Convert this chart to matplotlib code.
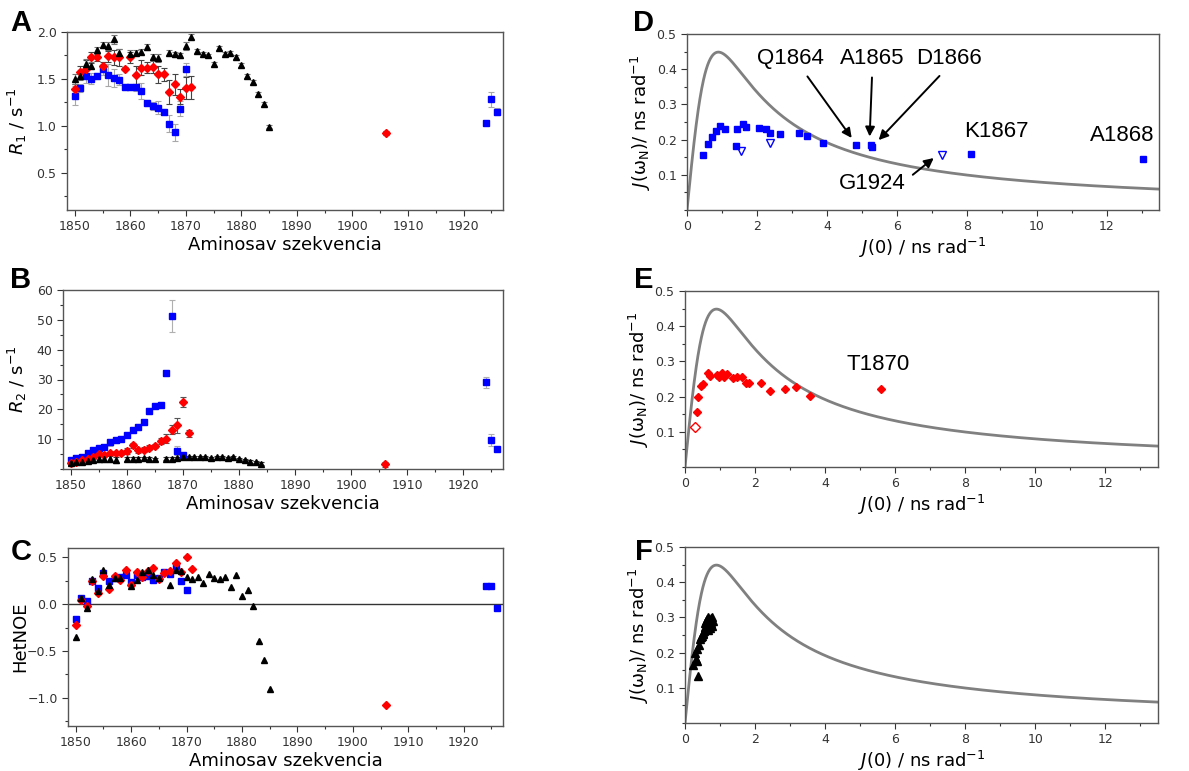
import matplotlib.pyplot as plt
from matplotlib.ticker import MultipleLocator
import numpy as np

# ---- relaxation data (residue numbers) ----
res_blue = [1850, 1851, 1852, 1853, 1854, 1855, 1856, 1857, 1858, 1859, 1860,
            1861, 1862, 1863, 1864, 1865, 1866, 1867, 1868, 1869, 1870,
            1924, 1925, 1926]
res_red = [1850, 1851, 1852, 1853, 1854, 1855, 1856, 1857, 1858, 1859, 1860,
           1861, 1862, 1863, 1864, 1865, 1866, 1867, 1868, 1869, 1870, 1871,
           1906]
res_black = [1850, 1851, 1852, 1853, 1854, 1855, 1856, 1857, 1858,
             1860, 1861, 1862, 1863, 1864, 1865,
             1867, 1868, 1869, 1870, 1871, 1872, 1873, 1874, 1875, 1876,
             1877, 1878, 1879, 1880, 1881, 1882, 1883, 1884, 1885]
res_black_r2 = res_black[:-1]

r1_blue = [1.32, 1.40, 1.53, 1.50, 1.53, 1.60, 1.54, 1.51, 1.49, 1.41, 1.41,
           1.41, 1.37, 1.24, 1.21, 1.19, 1.15, 1.02, 0.93, 1.18, 1.60,
           1.03, 1.28, 1.15]
r1_blue_err = [0.10, 0.04, 0.07, 0.06, 0.03, 0.06, 0.12, 0.10, 0.06, 0.03, 0.03,
               0.04, 0.09, 0.03, 0.04, 0.07, 0.03, 0.09, 0.09, 0.08, 0.07,
               0.02, 0.08, 0.04]
r1_red = [1.39, 1.57, 1.61, 1.73, 1.73, 1.64, 1.74, 1.73, 1.73, 1.61, 1.73,
          1.54, 1.62, 1.62, 1.63, 1.55, 1.55, 1.36, 1.44, 1.31, 1.40, 1.41,
          0.92]
r1_red_err = [0.05, 0.07, 0.09, 0.06, 0.04, 0.04, 0.06, 0.08, 0.09, 0.02, 0.06,
              0.10, 0.08, 0.06, 0.07, 0.09, 0.07, 0.13, 0.11, 0.08, 0.12, 0.12,
              0.02]
r1_black = [1.50, 1.53, 1.66, 1.64, 1.81, 1.86, 1.85, 1.92, 1.78,
            1.77, 1.78, 1.79, 1.84, 1.73, 1.72,
            1.78, 1.76, 1.75, 1.85, 1.95, 1.80, 1.77, 1.75, 1.66, 1.83,
            1.77, 1.78, 1.73, 1.65, 1.53, 1.47, 1.34, 1.23, 0.99]
r1_black_err = [0.05, 0.04, 0.05, 0.04, 0.03, 0.03, 0.04, 0.05, 0.04,
                0.04, 0.03, 0.03, 0.03, 0.04, 0.04,
                0.03, 0.03, 0.03, 0.04, 0.03, 0.02, 0.02, 0.02, 0.02, 0.02,
                0.02, 0.02, 0.02, 0.02, 0.02, 0.02, 0.02, 0.02, 0.02]

r2_blue = [3.1, 3.7, 4.1, 5.2, 6.5, 7.2, 7.5, 8.9, 9.6, 10.1, 11.4,
           13.2, 14.1, 15.7, 19.5, 21.2, 21.3, 32.1, 51.3, 6.2, 4.7,
           29.0, 9.8, 6.7]
r2_blue_err = [0.6, 0.5, 0.6, 0.5, 0.5, 0.5, 0.6, 1.2, 0.8, 0.6, 0.7,
               0.8, 0.9, 0.6, 1.0, 0.9, 1.0, 1.0, 5.5, 1.5, 0.8,
               2.0, 2.0, 0.6]
r2_red = [2.0, 2.5, 2.9, 3.5, 4.0, 4.9, 4.7, 5.2, 5.5, 5.2, 5.9,
          7.9, 6.3, 6.5, 7.2, 7.7, 9.3, 10.2, 13.2, 14.6, 22.4, 12.0,
          1.6]
r2_red_err = [0.5, 0.5, 0.6, 0.5, 0.5, 0.6, 0.6, 0.6, 0.7, 0.6, 1.0,
              0.9, 0.8, 0.8, 0.9, 0.8, 1.0, 1.6, 1.4, 2.6, 1.6, 1.2,
              0.8]
r2_black = [2.0, 2.3, 2.5, 2.8, 3.1, 3.3, 3.3, 3.3, 3.0,
            3.4, 3.4, 3.5, 3.6, 3.4, 3.3,
            3.5, 3.5, 3.6, 3.9, 3.9, 4.0, 4.0, 3.9, 3.6, 3.9,
            3.9, 3.7, 3.9, 3.3, 3.1, 2.5, 2.3, 1.8]
r2_black_err = [0.8, 0.8, 0.8, 0.9, 0.9, 1.0, 1.0, 1.0, 0.9,
                0.6, 0.5, 0.5, 0.5, 0.5, 0.5,
                0.5, 0.5, 0.5, 0.5, 0.4, 0.4, 0.4, 0.4, 0.4, 0.4,
                0.4, 0.4, 0.4, 0.4, 0.4, 0.4, 0.4, 0.5]

noe_blue = [-0.16, 0.07, 0.03, 0.245, 0.17, 0.33, 0.25, 0.28, 0.29, 0.31, 0.24,
            0.31, 0.29, 0.30, 0.26, 0.28, 0.34, 0.32, 0.41, 0.25, 0.15,
            0.19, 0.19, -0.04]
noe_red = [-0.22, 0.04, -0.02, 0.25, 0.12, 0.30, 0.16, 0.30, 0.26, 0.37, 0.20,
           0.34, 0.29, 0.35, 0.39, 0.27, 0.33, 0.35, 0.44, 0.34, 0.50, 0.38,
           -1.08]
noe_black = [-0.35, 0.07, -0.04, 0.27, 0.14, 0.37, 0.21, 0.28, 0.28,
             0.19, 0.26, 0.34, 0.36, 0.31, 0.28,
             0.21, 0.36, 0.35, 0.29, 0.27, 0.29, 0.23, 0.32, 0.28, 0.27,
             0.29, 0.18, 0.31, 0.09, 0.15, -0.02, -0.39, -0.60, -0.91]

# ---- spectral density mapping ----
j0_blue = [0.46, 0.61, 0.72, 0.84, 0.95, 1.10, 1.41, 1.43, 1.59, 1.68, 2.06,
           2.25, 2.37, 2.67, 3.21, 3.43, 3.88, 4.84, 5.27, 5.30, 8.11, 13.03]
jw_blue = [0.155, 0.188, 0.208, 0.225, 0.239, 0.229, 0.181, 0.230, 0.245, 0.236,
           0.232, 0.230, 0.218, 0.216, 0.218, 0.211, 0.191, 0.185, 0.185, 0.178,
           0.158, 0.146]
j0_blue_open = [1.54, 2.38, 7.30]
jw_blue_open = [0.167, 0.190, 0.156]

j0_red = [0.33, 0.38, 0.45, 0.52, 0.65, 0.71, 0.90, 0.98, 1.05, 1.11, 1.21,
          1.38, 1.47, 1.62, 1.74, 1.83, 2.16, 2.42, 2.84, 3.18, 3.56, 5.58]
jw_red = [0.157, 0.198, 0.231, 0.235, 0.266, 0.259, 0.261, 0.255, 0.266, 0.257,
          0.264, 0.252, 0.255, 0.255, 0.240, 0.240, 0.240, 0.215, 0.222, 0.227,
          0.203, 0.223]
j0_red_open = [0.29]
jw_red_open = [0.113]

j0_black = [0.24, 0.29, 0.31, 0.33, 0.35, 0.38, 0.40, 0.43, 0.45, 0.48,
            0.50, 0.52, 0.54, 0.56, 0.57, 0.58, 0.60, 0.62, 0.64, 0.65,
            0.66, 0.67, 0.69, 0.70, 0.71, 0.73, 0.74, 0.76, 0.77, 0.79]
jw_black = [0.166, 0.200, 0.182, 0.210, 0.175, 0.133, 0.221, 0.238, 0.245, 0.247,
            0.257, 0.252, 0.262, 0.270, 0.285, 0.274, 0.290, 0.296, 0.280, 0.300,
            0.265, 0.286, 0.272, 0.283, 0.270, 0.299, 0.285, 0.275, 0.300, 0.289]

# Lorentzian model line, 15N at 700 MHz
omega_n = 2 * np.pi * 70.96e6 * 1e-9   # rad/ns
tau = np.linspace(0.001, 500, 20000)
model_j0 = 0.4 * tau
model_jw = 0.4 * tau / (1 + (omega_n * tau) ** 2)

W, H = 1189, 771
fig = plt.figure(figsize=(W / 100, H / 100), dpi=100)
plt.rcParams['font.family'] = 'DejaVu Sans'


def add_ax(left, top, right, bottom):
    return fig.add_axes([left / W, 1 - bottom / H, (right - left) / W, (bottom - top) / H])


def style(ax):
    for side in ['top', 'right', 'left', 'bottom']:
        ax.spines[side].set_color('#555555')
        ax.spines[side].set_linewidth(1.0)
    ax.tick_params(which='both', direction='out', top=False, right=False,
                   labelsize=9, colors='#333333', length=4, width=0.8)
    ax.tick_params(which='minor', length=2.5)


# ---- left column ----
seq_axes = [add_ax(67, 32, 503, 210), add_ax(63, 290, 503, 469), add_ax(68, 548, 503, 726)]
ax_a, ax_b, ax_c = seq_axes

mk = dict(linestyle='none', capsize=2.5, elinewidth=0.8, capthick=0.8)
ax_a.errorbar(res_blue, r1_blue, yerr=r1_blue_err, marker='s', ms=4.5, color='#0000ff',
              ecolor='#a8a8a8', **mk)
ax_a.errorbar(res_red, r1_red, yerr=r1_red_err, marker='D', ms=4.5, color='#ff0000',
              ecolor='#444444', **mk)
ax_a.errorbar(res_black, r1_black, yerr=r1_black_err, marker='^', ms=5, color='black',
              ecolor='#777777', **mk)
ax_a.set_ylim(0.1, 2.0)
ax_a.yaxis.set_major_locator(MultipleLocator(0.5))
ax_a.yaxis.set_minor_locator(MultipleLocator(0.25))
ax_a.set_ylabel('$R_1$ / s$^{-1}$', fontsize=13)
ax_a.yaxis.set_label_coords(-0.088, 0.5)

ax_b.errorbar(res_blue, r2_blue, yerr=r2_blue_err, marker='s', ms=4.5, color='#0000ff',
              ecolor='#b0b0b0', **mk)
ax_b.errorbar(res_red, r2_red, yerr=r2_red_err, marker='D', ms=4.5, color='#ff0000',
              ecolor='#555555', **mk)
ax_b.errorbar(res_black_r2, r2_black, yerr=r2_black_err, marker='^', ms=5, color='black',
              ecolor='#333333', **mk)
ax_b.set_ylim(0, 60)
ax_b.set_yticks([10, 20, 30, 40, 50, 60])
ax_b.yaxis.set_minor_locator(MultipleLocator(5))
ax_b.set_ylabel('$R_2$ / s$^{-1}$', fontsize=13)
ax_b.yaxis.set_label_coords(-0.078, 0.5)

ax_c.axhline(0, color='#333333', lw=1.0)
ax_c.plot(res_blue, noe_blue, 's', ms=4.5, color='#0000ff', linestyle='none')
ax_c.plot(res_red, noe_red, 'D', ms=4.5, color='#ff0000', linestyle='none')
ax_c.plot(res_black, noe_black, '^', ms=5, color='black', linestyle='none')
ax_c.set_ylim(-1.3, 0.6)
ax_c.yaxis.set_major_locator(MultipleLocator(0.5))
ax_c.yaxis.set_minor_locator(MultipleLocator(0.25))
ax_c.set_ylabel('HetNOE', fontsize=13)
ax_c.yaxis.set_label_coords(-0.09, 0.5)

for ax in seq_axes:
    style(ax)
    ax.set_xlim(1848.6, 1927.1)
    ax.xaxis.set_major_locator(MultipleLocator(10))
    ax.xaxis.set_minor_locator(MultipleLocator(5))
    ax.set_xlabel('Aminosav szekvencia', fontsize=13, labelpad=2)

# ---- right column ----
sd_axes = [add_ax(687, 34, 1159, 210), add_ax(685, 291, 1158, 467), add_ax(685, 547, 1158, 723)]
ax_d, ax_e, ax_f = sd_axes
for ax in sd_axes:
    style(ax)
    ax.plot(model_j0, model_jw, color='#808080', lw=2)
    ax.set_xlim(0, 13.5)
    ax.set_ylim(0, 0.5)
    ax.set_yticks([0.1, 0.2, 0.3, 0.4, 0.5])
    ax.xaxis.set_major_locator(MultipleLocator(2))
    ax.xaxis.set_minor_locator(MultipleLocator(1))
    ax.yaxis.set_minor_locator(MultipleLocator(0.05))
    ax.set_xlabel('$J$(0) / ns rad$^{-1}$', fontsize=13, labelpad=2)
    ax.set_ylabel('$J$(ω$_\\mathrm{N}$)/ ns rad$^{-1}$', fontsize=13)
    ax.yaxis.set_label_coords(-0.072, 0.5)

ax_d.plot(j0_blue, jw_blue, 's', ms=4.5, color='#0000ff')
ax_d.plot(j0_blue_open, jw_blue_open, 'v', ms=6, mfc='none', mec='#0000ff', mew=1)
ax_e.plot(j0_red, jw_red, 'D', ms=4.5, color='#ff0000')
ax_e.plot(j0_red_open, jw_red_open, 'D', ms=5, mfc='none', mec='#ff0000', mew=1)
ax_f.plot(j0_black, jw_black, '^', ms=6, color='black')

lab = dict(fontsize=16, family='Liberation Sans')


def arrow(relpos):
    return dict(arrowstyle='-|>', color='black', lw=1.4, mutation_scale=14,
                relpos=relpos, shrinkA=4, shrinkB=3)


ax_d.annotate('Q1864', xy=(4.78, 0.195), xytext=(2.95, 0.43), ha='center', va='center',
              arrowprops=arrow((0.68, 0.0)), **lab)
ax_d.annotate('A1865', xy=(5.22, 0.197), xytext=(5.3, 0.43), ha='center', va='center',
              arrowprops=arrow((0.5, 0.0)), **lab)
ax_d.annotate('D1866', xy=(5.40, 0.19), xytext=(7.5, 0.43), ha='center', va='center',
              arrowprops=arrow((0.45, 0.0)), **lab)
ax_d.annotate('G1924', xy=(7.15, 0.155), xytext=(5.3, 0.075), ha='center', va='center',
              arrowprops=arrow((1.0, 0.65)), **lab)
ax_d.text(8.85, 0.222, 'K1867', ha='center', va='center', **lab)
ax_d.text(12.45, 0.212, 'A1868', ha='center', va='center', **lab)
ax_e.text(5.5, 0.29, 'T1870', ha='center', va='center', **lab)

for letter, x, y in [('A', 21, 23), ('B', 21, 280), ('C', 21, 552),
                     ('D', 644, 23), ('E', 644, 280), ('F', 644, 552)]:
    fig.text(x / W, 1 - y / H, letter, fontsize=21, fontweight='bold',
             family='Liberation Sans', ha='center', va='center')

fig.savefig('out.png', dpi=100)
